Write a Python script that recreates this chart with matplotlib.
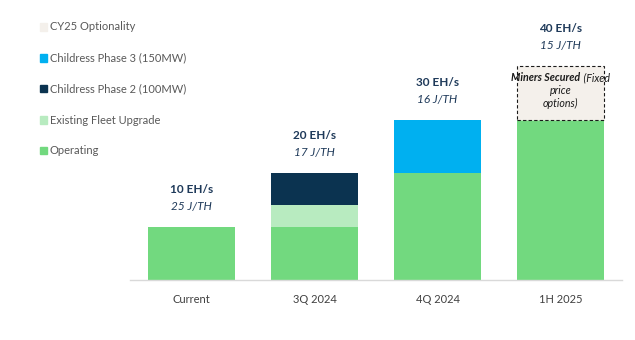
import matplotlib
matplotlib.use("Agg")
import matplotlib.pyplot as plt
from matplotlib.patches import Rectangle
import numpy as np

plt.rcParams['font.family'] = ['Lato', 'DejaVu Sans']

categories = ["Current", "3Q 2024", "4Q 2024", "1H 2025"]
operating = [10, 10, 20, 30]
fleet_upgrade = [0, 4, 0, 0]
phase2 = [0, 6, 0, 0]
phase3 = [0, 0, 10, 0]
optionality = [0, 0, 0, 10]
hash_labels = ["10 EH/s", "20 EH/s", "30 EH/s", "40 EH/s"]
eff_labels = ["25 J/TH", "17 J/TH", "16 J/TH", "15 J/TH"]
legend_labels = ["CY25 Optionality", "Childress Phase 3 (150MW)",
                 "Childress Phase 2 (100MW)", "Existing Fleet Upgrade", "Operating"]

c_op = "#72d97f"
c_up = "#b8ebc0"
c_p2 = "#0b3350"
c_p3 = "#00b0f0"
c_opt = "#f4f0eb"
navy = "#1f3a5a"

fig = plt.figure(figsize=(6.35, 3.4), dpi=100)
ax = fig.add_axes([130/635, 60/340, 492/635, 262/340])
x = np.arange(len(categories))
w = 0.715

ax.bar(x, operating, w, color=c_op, zorder=2)
b1 = np.array(operating)
ax.bar(x, fleet_upgrade, w, bottom=b1, color=c_up, zorder=2)
b2 = b1 + np.array(fleet_upgrade)
ax.bar(x, phase2, w, bottom=b2, color=c_p2, zorder=2)
b3 = b2 + np.array(phase2)
ax.bar(x, phase3, w, bottom=b3, color=c_p3, zorder=2)
b4 = b3 + np.array(phase3)
opt = np.array(optionality)
mask = opt > 0
ax.bar(x[mask], opt[mask], w, bottom=b4[mask], color=c_opt, edgecolor="#1a1a1a",
       linestyle=(0, (3, 2)), linewidth=0.8, zorder=2)
totals = b4 + opt

ax.set_xlim(-0.5, 3.5)
ax.set_ylim(0, 49)

fig.canvas.draw()
renderer = fig.canvas.get_renderer()
fs_box = 7.7
for i in range(len(categories)):
    if optionality[i] > 0:
        yt = totals[i]
        t1 = ax.text(0, 0, "Miners Secured", fontsize=fs_box, style="italic", fontweight="bold")
        t2 = ax.text(0, 0, " (Fixed", fontsize=fs_box, style="italic")
        w1 = t1.get_window_extent(renderer).width
        w2 = t2.get_window_extent(renderer).width
        t1.remove(); t2.remove()
        cx, cy = ax.transData.transform((x[i], yt - 2.2))
        left = cx - (w1 + w2) / 2
        inv = ax.transData.inverted()
        x1 = inv.transform((left, cy))[0]
        x2 = inv.transform((left + w1, cy))[0]
        ax.text(x1, yt - 2.2, "Miners Secured", ha="left", va="center", fontsize=fs_box,
                style="italic", fontweight="bold", color="#1a1a1a", zorder=3)
        ax.text(x2, yt - 2.2, " (Fixed", ha="left", va="center", fontsize=fs_box,
                style="italic", color="#1a1a1a", zorder=3)
        ax.text(x[i], yt - 4.6, "price", ha="center", va="center",
                fontsize=fs_box, style="italic", color="#1a1a1a", zorder=3)
        ax.text(x[i], yt - 7.0, "options)", ha="center", va="center",
                fontsize=fs_box, style="italic", color="#1a1a1a", zorder=3)

for i in range(len(categories)):
    ax.annotate(hash_labels[i], (x[i], totals[i]), xytext=(0, 27), textcoords="offset points",
                ha="center", va="center", fontsize=8.5, fontweight="bold", color=navy)
    ax.annotate(eff_labels[i], (x[i], totals[i]), xytext=(0, 14.5), textcoords="offset points",
                ha="center", va="center", fontsize=8.5, style="italic", color=navy)

for s in ["top", "right", "left"]:
    ax.spines[s].set_visible(False)
ax.spines["bottom"].set_color("#d9d9d9")
ax.spines["bottom"].set_linewidth(1)
ax.set_yticks([])
ax.set_xticks(x)
ax.set_xticklabels(categories, fontsize=8, color="#404040")
ax.tick_params(axis="x", length=0, pad=10)

leg_colors = [c_opt, c_p3, c_p2, c_up, c_op]
leg_y = [27, 58, 89, 120, 151]
for lab, col, yy in zip(legend_labels, leg_colors, leg_y):
    fig.patches.append(Rectangle((40/635, 1 - (yy + 3.5)/340), 7/635, 7/340,
                                 transform=fig.transFigure, color=col, figure=fig))
    fig.text(50/635, 1 - yy/340, lab, ha="left", va="center", fontsize=8, color="#595959")

fig.savefig("out.png", dpi=100)
